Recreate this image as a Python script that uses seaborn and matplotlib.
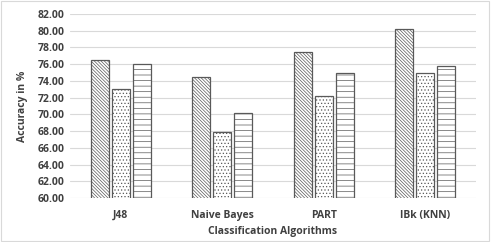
import seaborn as sns
import matplotlib.pyplot as plt
import matplotlib.patches as mpatches
import pandas as pd

algorithms = ['J48', 'Naive Bayes', 'PART', 'IBk (KNN)']
series = ['S1', 'S2', 'S3']
s1 = [76.46, 74.43, 77.42, 80.17]
s2 = [73.03, 67.90, 72.23, 74.99]
s3 = [76.06, 70.16, 74.91, 75.78]
yticks = [60, 62, 64, 66, 68, 70, 72, 74, 76, 78, 80, 82]

rows = []
for name, vals in zip(series, [s1, s2, s3]):
    for alg, v in zip(algorithms, vals):
        rows.append({'Algorithm': alg, 'Series': name, 'Accuracy': v})
df = pd.DataFrame(rows)

sns.set_style('white')
plt.rcParams['font.family'] = ['Open Sans', 'DejaVu Sans']
plt.rcParams['hatch.linewidth'] = 0.5

fig = plt.figure(figsize=(4.91, 2.42), dpi=100)
ax = fig.add_axes([70/491, 44/242, 406/491, 184/242])

sns.barplot(data=df, x='Algorithm', y='Accuracy', hue='Series',
            palette=['white'] * 3, width=0.62, gap=0.14,
            edgecolor='#7f7f7f', linewidth=0.9, legend=False, ax=ax)

hatches = ['\\' * 10, '.' * 5, '-' * 3]
for cont, h in zip(ax.containers, hatches):
    for bar in cont:
        bar.set_hatch(h)
        bar.set_edgecolor('#595959')

txt = dict(fontsize=7.5, fontweight='bold', color='#404040')
ax.set_ylim(60, 82)
ax.set_yticks(yticks)
ax.set_yticklabels([f'{t:.2f}' for t in yticks], **txt)
ax.set_xlim(-0.5, 3.5)
for lab in ax.get_xticklabels():
    lab.set_fontsize(7.5)
    lab.set_fontweight('bold')
    lab.set_color('#404040')
ax.tick_params(axis='both', length=0, pad=4)
ax.tick_params(axis='x', pad=8.5)
ax.yaxis.grid(True, color='#d9d9d9', linewidth=0.8)
ax.set_axisbelow(True)
for sp in ax.spines.values():
    sp.set_visible(False)
ax.set_ylabel('Accuracy in %', labelpad=7, **txt)
ax.set_xlabel('Classification Algorithms', labelpad=3.5, **txt)

fig.patches.append(mpatches.Rectangle((0.002, 0.004), 0.994, 0.99, transform=fig.transFigure,
                                      fill=False, edgecolor='#d9d9d9', linewidth=0.8))
fig.savefig('out.png', dpi=100)
